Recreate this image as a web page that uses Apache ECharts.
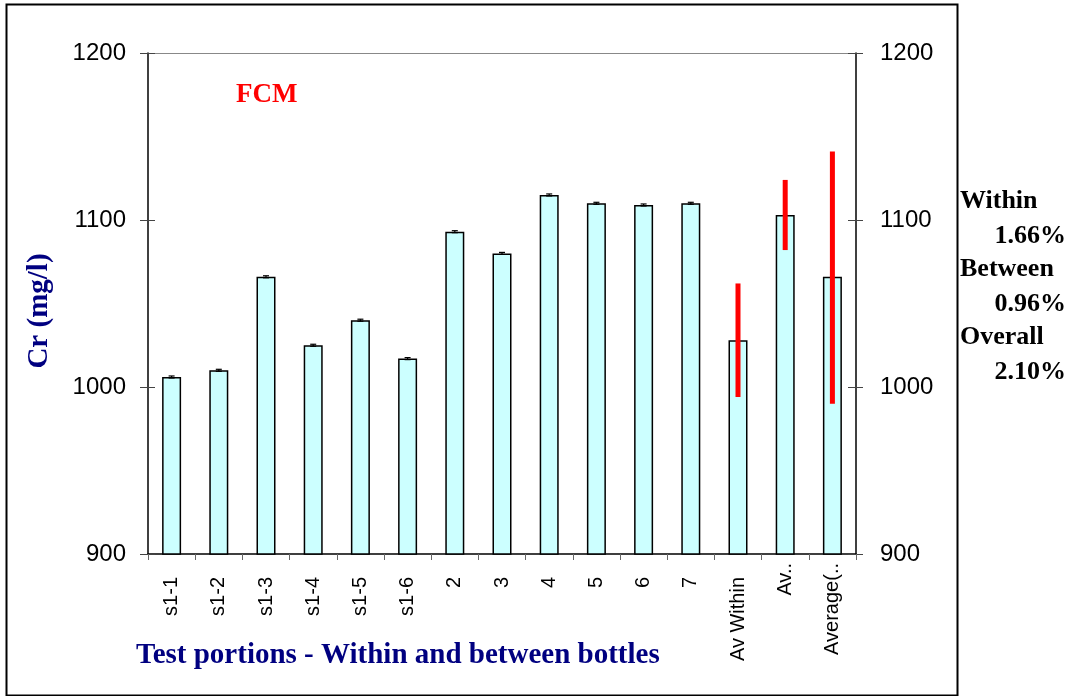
<!DOCTYPE html>
<html>
<head>
<meta charset="utf-8">
<title>FCM – Cr test portions</title>
<script src="https://cdn.jsdelivr.net/npm/echarts@6/dist/echarts.min.js"></script>
<style>
  html, body { margin: 0; padding: 0; background: #fff; }
  #chart { width: 1072px; height: 696px; }
</style>
</head>
<body>
<div id="chart"></div>
<script>
// Test portions: six sub-samples of bottle 1, bottles 2-7, then the averages
const categories = ['s1-1', 's1-2', 's1-3', 's1-4', 's1-5', 's1-6', '2', '3', '4', '5', '6', '7', 'Av Within', 'Av..', 'Average(..'];
// Cr concentration (mg/l)
const crValues = [1006, 1010, 1066, 1025, 1040, 1017, 1093, 1080, 1115, 1110, 1109, 1110, 1028, 1103, 1066];
// Small replicate uncertainty on each single measurement (mg/l)
const replicateError = [0.6, 0.6, 0.6, 0.6, 0.6, 0.6, 0.6, 0.6, 0.6, 0.6, 0.6, 0.6, null, null, null];
// Spread ranges drawn on the averaged bars (mg/l)
const spreadLow = [null, null, null, null, null, null, null, null, null, null, null, null, 994, 1082, 990];
const spreadHigh = [null, null, null, null, null, null, null, null, null, null, null, null, 1062, 1124, 1141];
// Axis ticks
const yMin = 900, yMax = 1200, yStep = 100;
// Relative standard deviations shown beside the chart
const rsdLabels = ['Within', 'Between', 'Overall'];
const rsdValues = ['1.66%', '0.96%', '2.10%'];

const chart = echarts.init(document.getElementById('chart'), null, { renderer: 'canvas' });

const serif = '"Liberation Serif", "Times New Roman", serif';
const sans = '"Liberation Sans", Arial, sans-serif';

const replicateData = crValues.map((v, i) => replicateError[i] == null ? null : [i, v - replicateError[i], v + replicateError[i]]).filter(Boolean);
const spreadData = spreadLow.map((lo, i) => lo == null ? null : [i, lo, spreadHigh[i]]).filter(Boolean);

// truncated names ("..") start a little closer to the axis
const categoryItems = categories.map(c => c.endsWith('..')
  ? { value: c, textStyle: { padding: [0, -14, 0, 0] } }
  : c);

const yAxisBase = {
  type: 'value', min: yMin, max: yMax, interval: yStep,
  splitLine: { show: false }
};
const plainNumber = v => String(v);

const rightText = [];
rsdLabels.forEach((name, k) => {
  rightText.push({
    type: 'text', left: 960, top: 188 + k * 68,
    style: { text: name, font: 'bold 26px ' + serif, fill: '#000' }
  });
  rightText.push({
    type: 'text', right: 6, top: 223 + k * 68,
    style: { text: rsdValues[k], font: 'bold 26px ' + serif, fill: '#000' }
  });
});

chart.setOption({
  animation: false,
  backgroundColor: '#fff',
  grid: { left: 148, right: 216, top: 53, bottom: 142, containLabel: false },
  xAxis: [
    {
      type: 'category', data: categoryItems, position: 'bottom',
      axisLine: { lineStyle: { color: '#000', width: 1.5 } },
      axisTick: { show: true, length: 6, lineStyle: { color: '#666', width: 1 } },
      axisLabel: { rotate: 90, fontSize: 20, fontFamily: sans, color: '#000', margin: 23, interval: 0 }
    },
    {
      type: 'category', data: categories, position: 'top',
      axisLine: { lineStyle: { color: '#888', width: 1 } },
      axisTick: { show: false }, axisLabel: { show: false }
    }
  ],
  yAxis: [
    Object.assign({}, yAxisBase, {
      position: 'left',
      axisLine: { show: true, lineStyle: { color: '#000', width: 1.5 } },
      axisTick: { show: true, length: 8, lineStyle: { color: '#444' } },
      axisLabel: { fontSize: 24, fontFamily: sans, color: '#000', margin: 22, formatter: plainNumber }
    }),
    Object.assign({}, yAxisBase, {
      position: 'left',
      axisLine: { show: false },
      axisTick: { show: true, inside: true, length: 7, lineStyle: { color: '#444' } },
      axisLabel: { show: false }
    }),
    Object.assign({}, yAxisBase, {
      position: 'right',
      axisLine: { show: true, lineStyle: { color: '#000', width: 1.5 } },
      axisTick: { show: true, length: 7, lineStyle: { color: '#444' } },
      axisLabel: { fontSize: 24, fontFamily: sans, color: '#000', margin: 24, formatter: plainNumber }
    }),
    Object.assign({}, yAxisBase, {
      position: 'right',
      axisLine: { show: false },
      axisTick: { show: true, inside: true, length: 8, lineStyle: { color: '#444' } },
      axisLabel: { show: false }
    })
  ],
  series: [
    {
      type: 'bar', data: crValues, barWidth: 19,
      itemStyle: { color: '#CCFFFF', borderColor: '#000', borderWidth: 1.5 },
      z: 2
    },
    {
      // short black caps for the single-measurement uncertainty
      type: 'custom', data: replicateData, z: 3,
      renderItem: function (params, api) {
        const top = api.coord([api.value(0), api.value(2)]);
        const bot = api.coord([api.value(0), api.value(1)]);
        const hw = 3;
        return {
          type: 'group', children: [
            { type: 'line', shape: { x1: top[0] - hw, y1: top[1], x2: top[0] + hw, y2: top[1] }, style: { stroke: '#000', lineWidth: 1.2 } },
            { type: 'line', shape: { x1: bot[0] - hw, y1: bot[1], x2: bot[0] + hw, y2: bot[1] }, style: { stroke: '#000', lineWidth: 1.2 } },
            { type: 'line', shape: { x1: top[0], y1: top[1], x2: bot[0], y2: bot[1] }, style: { stroke: '#000', lineWidth: 1.2 } }
          ]
        };
      }
    },
    {
      // red spread ranges on the averaged bars
      type: 'custom', data: spreadData, z: 4,
      renderItem: function (params, api) {
        const top = api.coord([api.value(0), api.value(2)]);
        const bot = api.coord([api.value(0), api.value(1)]);
        return {
          type: 'line',
          shape: { x1: top[0], y1: top[1], x2: bot[0], y2: bot[1] },
          style: { stroke: '#FF0000', lineWidth: 5 }
        };
      }
    }
  ],
  graphic: [
    {
      type: 'rect', left: 4, top: 2, z: -1,
      shape: { width: 951, height: 691 },
      style: { fill: 'none', stroke: '#000', lineWidth: 2 }
    },
    {
      type: 'text', x: 40, y: 311, rotation: Math.PI / 2,
      style: { text: 'Cr (mg/l)', font: 'bold 29px ' + serif, fill: '#000080', align: 'center', verticalAlign: 'middle' }
    },
    {
      type: 'text', left: 236, top: 82,
      style: { text: 'FCM', font: 'bold 27px ' + serif, fill: '#FF0000' }
    },
    {
      type: 'text', left: 136, top: 641,
      style: { text: 'Test portions - Within and between bottles', font: 'bold 29px ' + serif, fill: '#000080' }
    }
  ].concat(rightText)
});
</script>
</body>
</html>
